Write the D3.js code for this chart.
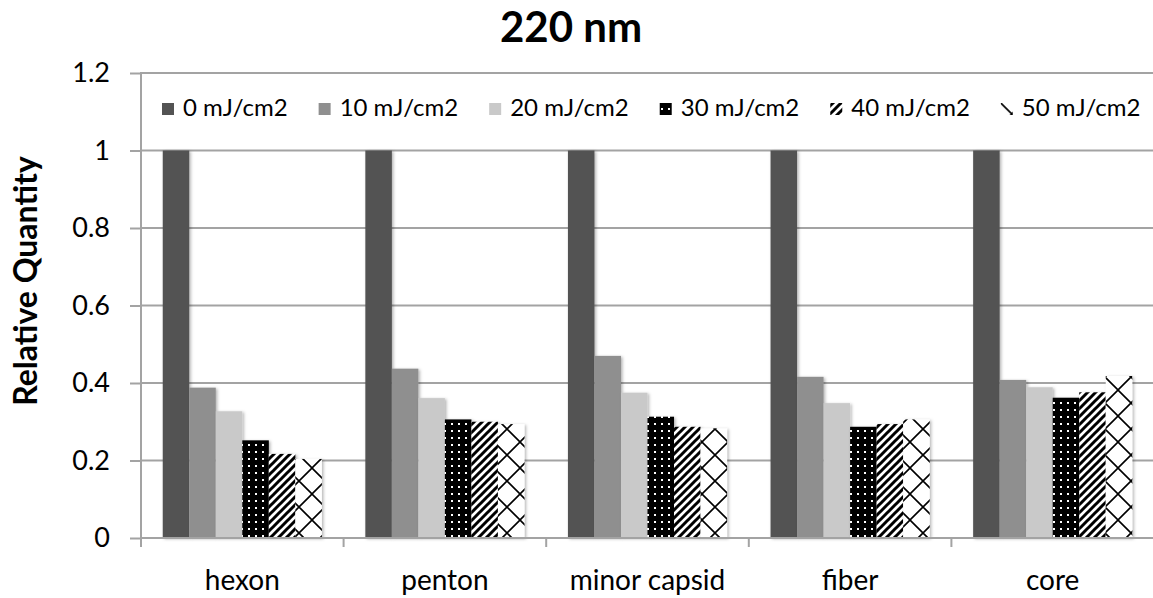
<!DOCTYPE html>
<html>
<head>
<meta charset="utf-8">
<script src="https://d3js.org/d3.v7.min.js"></script>
<style>
  body { margin: 0; background: #fff; }
  text { font-family: Lato, "Open Sans", sans-serif; fill: #000; }
</style>
</head>
<body>
<script>
// chart data
var categories = ["hexon", "penton", "minor capsid", "fiber", "core"];
var doses = ["0 mJ/cm2", "10 mJ/cm2", "20 mJ/cm2", "30 mJ/cm2", "40 mJ/cm2", "50 mJ/cm2"];
var dose0  = [1, 1, 1, 1, 1];
var dose10 = [0.388, 0.437, 0.470, 0.416, 0.408];
var dose20 = [0.327, 0.361, 0.375, 0.348, 0.389];
var dose30 = [0.252, 0.306, 0.313, 0.287, 0.362];
var dose40 = [0.217, 0.300, 0.287, 0.294, 0.376];
var dose50 = [0.204, 0.294, 0.283, 0.306, 0.418];
var yTicks = [0, 0.2, 0.4, 0.6, 0.8, 1, 1.2];

var seriesValues = [dose0, dose10, dose20, dose30, dose40, dose50];

// svg size and plot box
var svgWidth = 1153;
var svgHeight = 598;
var plot = { left: 141, right: 1154, top: 73, bottom: 538 };

var svg = d3.select("body")
  .append("svg")
  .attr("width", svgWidth)
  .attr("height", svgHeight);

svg.append("rect")
  .attr("width", svgWidth)
  .attr("height", svgHeight)
  .attr("fill", "#fff");

// patterns + shadow
var defs = svg.append("defs");

var shadow = defs.append("filter")
  .attr("id", "shadow")
  .attr("x", "-20%").attr("y", "-5%")
  .attr("width", "150%").attr("height", "115%");
shadow.append("feDropShadow")
  .attr("dx", 1.5).attr("dy", 1)
  .attr("stdDeviation", 1.5)
  .attr("flood-color", "#000")
  .attr("flood-opacity", 0.3);

// dots on black
var dots = defs.append("pattern")
  .attr("id", "dots")
  .attr("patternUnits", "userSpaceOnUse")
  .attr("width", 7).attr("height", 7);
dots.append("rect").attr("width", 7).attr("height", 7).attr("fill", "#000");
dots.append("rect").attr("x", 3).attr("y", 3).attr("width", 2).attr("height", 2).attr("fill", "#fff");

// wide upward diagonal
var stripes = defs.append("pattern")
  .attr("id", "stripes")
  .attr("patternUnits", "userSpaceOnUse")
  .attr("width", 8).attr("height", 8);
stripes.append("rect").attr("width", 8).attr("height", 8).attr("fill", "#fff");
stripes.append("path")
  .attr("d", "M-2,2 L2,-2 M0,8 L8,0 M6,10 L10,6")
  .attr("stroke", "#000")
  .attr("stroke-width", 3);

// diagonal lattice
function addLattice(id, ox, oy) {
  var p = defs.append("pattern")
    .attr("id", id)
    .attr("patternUnits", "userSpaceOnUse")
    .attr("x", ox).attr("y", oy)
    .attr("width", 26).attr("height", 26);
  p.append("rect").attr("width", 26).attr("height", 26).attr("fill", "#fff");
  p.append("path")
    .attr("d", "M0,0 L26,26 M26,0 L0,26")
    .attr("stroke", "#000")
    .attr("stroke-width", 1.6);
}
addLattice("lattice", 0, 0);

var fills = ["#535353", "#8f8f8f", "#c9c9c9", "url(#dots)", "url(#stripes)", "url(#lattice)"];

// scales
var x0 = d3.scaleBand()
  .domain(categories)
  .range([plot.left, plot.right]);

var x1 = d3.scaleBand()
  .domain(d3.range(doses.length))
  .range([0, x0.bandwidth()])
  .paddingInner(0)
  .paddingOuter(0.82);

var y = d3.scaleLinear()
  .domain([0, 1.2])
  .range([plot.bottom, plot.top]);

// gridlines
svg.append("g")
  .selectAll("line")
  .data(yTicks.slice(1))
  .enter()
  .append("line")
  .attr("x1", plot.left)
  .attr("x2", svgWidth)
  .attr("y1", d => y(d))
  .attr("y2", d => y(d))
  .attr("stroke", "#a3a3a3")
  .attr("stroke-width", 2);

// bars
var groups = svg.append("g")
  .selectAll("g")
  .data(seriesValues)
  .enter()
  .append("g")
  .attr("fill", (d, i) => fills[i]);

groups.selectAll("rect")
  .data((vals, si) => vals.map((v, ci) => ({ v: v, si: si, cat: categories[ci] })))
  .enter()
  .append("rect")
  .attr("x", d => x0(d.cat) + x1(d.si))
  .attr("y", d => y(d.v))
  .attr("width", x1.bandwidth())
  .attr("height", d => y(0) - y(d.v))
  .attr("filter", "url(#shadow)");

// y axis
var leftAxis = d3.axisLeft(y)
  .tickValues(yTicks)
  .tickFormat(d3.format("~g"))
  .tickSize(11)
  .tickPadding(20);

var yAxisG = svg.append("g")
  .attr("transform", `translate(${plot.left}, 0)`)
  .call(leftAxis);
yAxisG.select(".domain").remove();
yAxisG.selectAll(".tick line").attr("stroke", "#a3a3a3").attr("stroke-width", 2);
yAxisG.selectAll(".tick text")
  .style("font-family", "Lato, sans-serif")
  .style("font-size", "27px")
  .attr("fill", "#000");
yAxisG.append("line")
  .attr("x1", 0).attr("x2", 0)
  .attr("y1", plot.top - 1)
  .attr("y2", plot.bottom + 9)
  .attr("stroke", "#a3a3a3")
  .attr("stroke-width", 2);

// x axis
svg.append("line")
  .attr("x1", plot.left).attr("x2", svgWidth)
  .attr("y1", plot.bottom).attr("y2", plot.bottom)
  .attr("stroke", "#a3a3a3")
  .attr("stroke-width", 2);

svg.append("g")
  .selectAll("line")
  .data(categories.slice(1))
  .enter()
  .append("line")
  .attr("x1", d => x0(d))
  .attr("x2", d => x0(d))
  .attr("y1", plot.bottom)
  .attr("y2", plot.bottom + 9)
  .attr("stroke", "#a3a3a3")
  .attr("stroke-width", 2);

svg.append("g")
  .selectAll("text")
  .data(categories)
  .enter()
  .append("text")
  .attr("x", d => x0(d) + x0.bandwidth() / 2)
  .attr("y", 590)
  .attr("text-anchor", "middle")
  .style("font-size", "28px")
  .text(d => d);

// title
svg.append("text")
  .attr("x", 571)
  .attr("y", 42)
  .attr("text-anchor", "middle")
  .style("font-size", "42px")
  .style("font-weight", "bold")
  .text("220 nm");

// y axis title
svg.append("text")
  .attr("transform", "translate(37, 281) rotate(-90)")
  .attr("text-anchor", "middle")
  .style("font-size", "32px")
  .style("font-weight", "bold")
  .text("Relative Quantity");

// legend
var legend = svg.append("g");
var lx = 162;
doses.forEach(function(name, i) {
  var fill = fills[i];
  if (i === 5) {
    // own copy of the lattice so the key shows a "\" piece
    addLattice("latticeKey", lx - 2, 101);
    fill = "url(#latticeKey)";
  }
  legend.append("rect")
    .attr("x", lx)
    .attr("y", 103)
    .attr("width", 12)
    .attr("height", 12)
    .attr("fill", fill);
  var t = legend.append("text")
    .attr("x", lx + 21)
    .attr("y", 116)
    .style("font-size", "24px")
    .text(name);
  lx += 21 + t.node().getComputedTextLength() + 31;
});
</script>
</body>
</html>
